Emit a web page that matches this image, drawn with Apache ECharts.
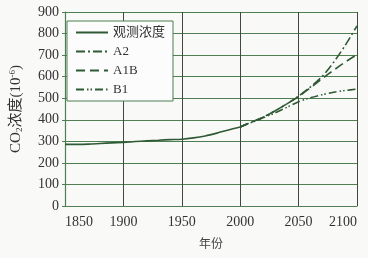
<!DOCTYPE html>
<html><head><meta charset="utf-8">
<script src="https://cdn.jsdelivr.net/npm/echarts@6/dist/echarts.min.js"></script>
<style>html,body{margin:0;padding:0;background:#f9faf8}#c{width:368px;height:258px}</style>
</head><body><div id="c"></div>
<script>
const seriesNames = ['观测浓度', 'A2', 'A1B', 'B1'];
const obsYears = [1850,1860,1870,1880,1890,1900,1910,1920,1930,1940,1950,1960,1970,1980,1990,2000,2005];
const obsValues = [286,286,287,290,293,295,299,302,305,308,310,316,325,338,353,367,378];
const scenYears = [2000,2010,2020,2030,2040,2050,2060,2070,2080,2090,2100];
const a2Values  = [367,390,413,442,474,510,552,600,667,746,836];
const a1bValues = [367,390,413,442,474,508,548,590,630,668,703];
const b1Values  = [367,388,410,432,458,484,502,516,528,536,542];
const xTicks = [1850,1900,1950,2000,2050,2100];
const yTicks = [0,100,200,300,400,500,600,700,800,900];

const lineColor = '#2f5a35';
const serif = '"Liberation Serif","DejaVu Serif",serif';
const zip = (xs, ys) => xs.map((x, i) => [x, ys[i]]);
const mk = (name, data, type) => ({
  name, type: 'line', data: zip(...data), symbol: 'none', showSymbol: false,
  smooth: 0.3, lineStyle: { color: lineColor, width: 1.6, type },
  itemStyle: { color: lineColor }
});

const chart = echarts.init(document.getElementById('c'), null, { renderer: 'canvas' });
chart.setOption({
  backgroundColor: '#f9faf8',
  animation: false,
  grid: { left: 61, right: 11, top: 12, bottom: 52 },
  legend: {
    data: seriesNames, orient: 'vertical', left: 67, top: 21,
    backgroundColor: '#fbfcfb', borderColor: '#4e7e52', borderWidth: 1,
    padding: [5, 8, 5, 8], itemWidth: 32, itemHeight: 12, itemGap: 6,
    itemStyle: { opacity: 0 },
    textStyle: { fontFamily: serif + ',"Noto Sans CJK SC"', fontSize: 13, color: '#333' }
  },
  xAxis: {
    type: 'value', min: xTicks[0], max: xTicks[xTicks.length - 1], interval: 50,
    name: '年份', nameLocation: 'middle', nameGap: 31,
    nameTextStyle: { fontFamily: '"Noto Sans CJK SC"', fontSize: 12, color: '#444' },
    axisLine: { show: true, lineStyle: { color: '#4e7e52', width: 1.2 } },
    axisTick: { show: false },
    axisLabel: { fontFamily: serif, fontSize: 14, color: '#333', margin: 9,
      formatter: v => String(v), alignMinLabel: 'left', alignMaxLabel: 'right' },
    splitLine: { show: true, lineStyle: { color: '#3e4a40', width: 1 } }
  },
  yAxis: {
    type: 'value', min: yTicks[0], max: yTicks[yTicks.length - 1], interval: 100,
    name: '{a|CO}{s|2}{a|浓度(10}{p|-6}{a|)}', nameLocation: 'middle', nameGap: 41, nameRotate: 90,
    nameTextStyle: { rich: {
      a: { fontFamily: serif + ',"Noto Sans CJK SC"', fontSize: 15, color: '#333' },
      s: { fontFamily: serif, fontSize: 9, color: '#333', verticalAlign: 'bottom', padding: [7,0,0,0] },
      p: { fontFamily: serif, fontSize: 9, color: '#333', verticalAlign: 'top', padding: [0,0,7,0] }
    } },
    axisLine: { show: true, lineStyle: { color: '#4e7e52', width: 1.2 } },
    axisTick: { show: true, length: 3, lineStyle: { color: '#4e7e52' } },
    axisLabel: { fontFamily: serif, fontSize: 14, color: '#333', margin: 6, formatter: v => String(v) },
    splitLine: { show: true, lineStyle: { color: '#4e7e52', width: 1.2 } }
  },
  series: [
    mk(seriesNames[0], [obsYears, obsValues], 'solid'),
    mk(seriesNames[1], [scenYears, a2Values], [9, 3, 2, 3]),
    mk(seriesNames[2], [scenYears, a1bValues], [9, 5]),
    mk(seriesNames[3], [scenYears, b1Values], [8, 3, 1.5, 2, 1.5, 3])
  ]
});
</script></body></html>
